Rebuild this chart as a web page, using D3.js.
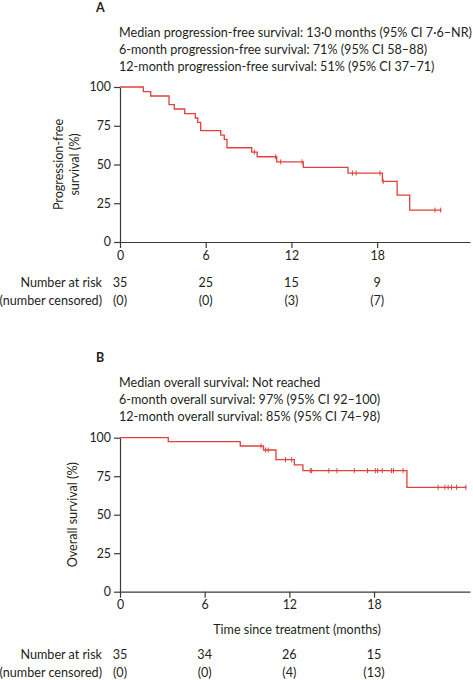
<!DOCTYPE html>
<html>
<head>
<meta charset="utf-8">
<script src="https://cdn.jsdelivr.net/npm/d3@7"></script>
<style>
  body { margin: 0; background: #fff; }
  svg text { font-family: Lato, "Open Sans", sans-serif; fill: #231f20; }
  .axis path, .axis line { stroke: #3a3a3a; stroke-width: 1.2px; }
  .axis text { font-size: 12.4px; }
</style>
</head>
<body>
<svg id="chart" width="473" height="680"></svg>
<script>
// panel A - progression-free survival (step times in months, survival % after step)
var pfsTimes = [0, 1.63, 2.15, 3.43, 3.8, 4.53, 5.27, 5.44, 5.65, 7.05, 7.3, 7.49, 9.22, 9.6, 10.97, 12.83, 15.96, 18.37, 19.4, 20.28];
var pfsSurv = [100, 97.0, 94.2, 88.6, 85.8, 82.8, 80.0, 77.2, 71.8, 69.0, 66.2, 60.8, 58.0, 55.0, 51.7, 48.2, 44.5, 39.1, 30.3, 20.6];
var pfsEnd = 22.5;
var pfsCensored = [9.4, 10.9, 11.25, 12.74, 16.27, 16.53, 18.2, 18.42, 22.05, 22.45];
var pfsAtRisk = ['35', '25', '15', '9'];
var pfsCensCount = ['(0)', '(0)', '(3)', '(7)'];
var pfsNotes = [
  'Median progression-free survival: 13\u00b70 months (95% CI 7\u00b76\u2013NR)',
  '6-month progression-free survival: 71% (95% CI 58\u201388)',
  '12-month progression-free survival: 51% (95% CI 37\u201371)'
];

// panel B - overall survival
var osTimes = [0, 3.42, 8.52, 10.17, 11.05, 12.35, 12.96, 20.33];
var osSurv = [100, 97.4, 94.6, 92.0, 85.7, 82.3, 78.6, 67.8];
var osEnd = 24.55;
var osCensored = [9.99, 10.32, 10.5, 11.73, 12.16, 13.48, 13.58, 14.8, 15.37, 16.6, 17.54, 18.1, 18.25, 18.58,
  19.24, 19.38, 20.06, 22.54, 23.02, 23.25, 23.49, 23.85, 24.5];
var osAtRisk = ['35', '34', '26', '15'];
var osCensCount = ['(0)', '(0)', '(4)', '(13)'];
var osNotes = [
  'Median overall survival: Not reached',
  '6-month overall survival: 97% (95% CI 92\u2013100)',
  '12-month overall survival: 85% (95% CI 74\u201398)'
];

var monthTicks = [0, 6, 12, 18];
var pctTicks = [0, 25, 50, 75, 100];

var svg = d3.select('#chart');
var red = '#e2403c';

var _survAt = function (times, surv, t) {
  var s = surv[0];
  for (var i = 0; i < times.length; i++) {
    if (times[i] <= t) { s = surv[i]; }
  }
  return s;
};

var _drawPanel = function (opt) {
  var x = d3.scaleLinear().domain([0, opt.xMax]).range([120, 470]);
  var y = d3.scaleLinear().domain([0, 100]).range([opt.bottom, opt.top]);
  var g = svg.append('g');

  g.append('text')
  .attr('x', 96)
  .attr('y', opt.labelY)
  .style('font-size', '12.5px')
  .style('font-weight', 'bold')
  .text(opt.label);

  g.selectAll('.note')
  .data(opt.notes)
  .enter()
  .append('text')
  .attr('x', 119)
  .attr('y', function (d, i) { return opt.labelY + 25 + i * 17; })
  .style('font-size', '12.6px')
  .text(function (d) { return d; });

  g.append('g')
  .attr('class', 'axis')
  .attr('transform', 'translate(0,' + opt.bottom + ')')
  .call(d3.axisBottom(x).tickValues(monthTicks).tickSizeOuter(0));

  g.append('g')
  .attr('class', 'axis')
  .attr('transform', 'translate(120,0)')
  .call(d3.axisLeft(y).tickValues(pctTicks).tickSizeOuter(0));

  // step curve
  var pts = [];
  opt.times.forEach(function (t, i) { pts.push([t, opt.surv[i]]); });
  pts.push([opt.end, opt.surv[opt.surv.length - 1]]);

  g.append('path')
  .datum(pts)
  .attr('fill', 'none')
  .attr('stroke', red)
  .attr('stroke-width', 1.3)
  .attr('d', d3.line()
    .x(function (d) { return x(d[0]); })
    .y(function (d) { return y(d[1]); })
    .curve(d3.curveStepAfter));

  g.selectAll('.cens')
  .data(opt.censored)
  .enter()
  .append('line')
  .attr('x1', function (d) { return x(d); })
  .attr('x2', function (d) { return x(d); })
  .attr('y1', function (d) { return y(_survAt(opt.times, opt.surv, d)) - 2.5; })
  .attr('y2', function (d) { return y(_survAt(opt.times, opt.surv, d)) + 2.5; })
  .attr('stroke', red)
  .attr('stroke-width', 1);

  // y axis title
  var yt = g.append('text')
  .attr('transform', 'translate(' + opt.yTitleX + ',' + ((opt.top + opt.bottom) / 2) + ') rotate(-90)')
  .attr('text-anchor', 'middle')
  .style('font-size', '12.6px');
  opt.yTitle.forEach(function (line, i) {
    yt.append('tspan')
    .attr('x', 0)
    .attr('dy', i === 0 ? 0 : 16)
    .text(line);
  });

  if (opt.xTitle) {
    g.append('text')
    .attr('x', 297)
    .attr('y', opt.bottom + 42)
    .attr('text-anchor', 'middle')
    .style('font-size', '12.6px')
    .text(opt.xTitle);
  }

  // number at risk table
  g.append('text')
  .attr('x', 102)
  .attr('y', opt.riskY)
  .attr('text-anchor', 'end')
  .style('font-size', '12.6px')
  .text('Number at risk');

  g.append('text')
  .attr('x', 102)
  .attr('y', opt.riskY + 18)
  .attr('text-anchor', 'end')
  .style('font-size', '12.6px')
  .text('(number censored)');

  g.selectAll('.risk')
  .data(opt.atRisk)
  .enter()
  .append('text')
  .attr('x', function (d, i) { return x(monthTicks[i]); })
  .attr('y', opt.riskY)
  .attr('text-anchor', 'middle')
  .style('font-size', '12.6px')
  .text(function (d) { return d; });

  g.selectAll('.censn')
  .data(opt.censCount)
  .enter()
  .append('text')
  .attr('x', function (d, i) { return x(monthTicks[i]); })
  .attr('y', opt.riskY + 18)
  .attr('text-anchor', 'middle')
  .style('font-size', '12.6px')
  .text(function (d) { return d; });
};

_drawPanel({
  label: 'A', labelY: 12, notes: pfsNotes,
  top: 87, bottom: 242, xMax: 24.5,
  times: pfsTimes, surv: pfsSurv, end: pfsEnd, censored: pfsCensored,
  yTitle: ['Progression-free', 'survival (%)'], yTitleX: 63,
  riskY: 287, atRisk: pfsAtRisk, censCount: pfsCensCount
});

_drawPanel({
  label: 'B', labelY: 362, notes: osNotes,
  top: 437.7, bottom: 591.7, xMax: 24.8,
  times: osTimes, surv: osSurv, end: osEnd, censored: osCensored,
  yTitle: ['Overall survival (%)'], yTitleX: 77,
  xTitle: 'Time since treatment (months)',
  riskY: 659, atRisk: osAtRisk, censCount: osCensCount
});
</script>
</body>
</html>
